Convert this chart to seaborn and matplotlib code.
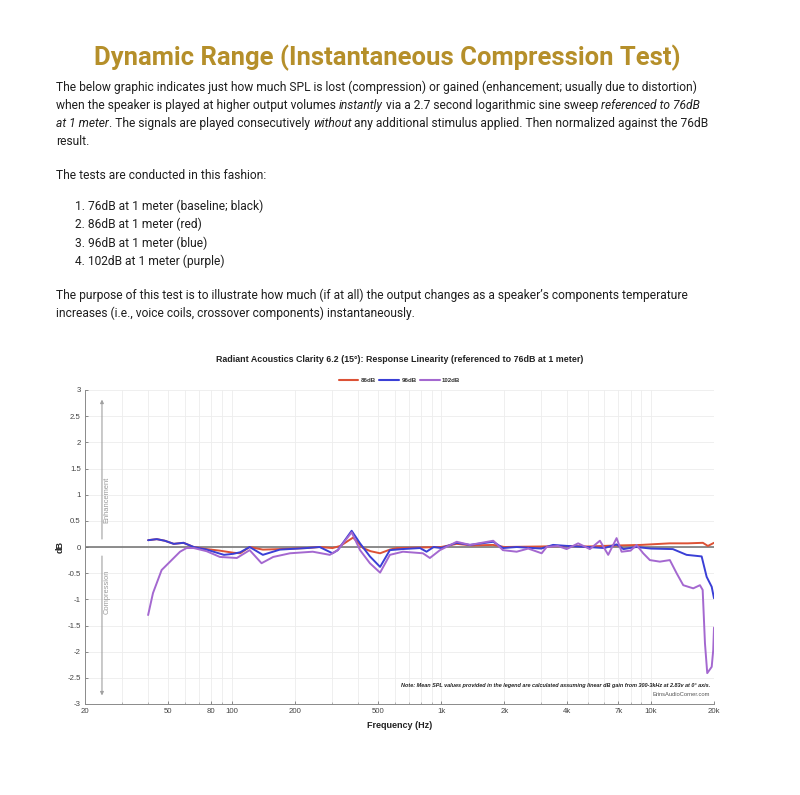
import numpy as np
import pandas as pd
import matplotlib
matplotlib.use("Agg")
import matplotlib.pyplot as plt
import seaborn as sns
from matplotlib.ticker import FixedLocator, FixedFormatter, LogLocator, NullFormatter

# ---------------- data ----------------
series_names = ["86dB", "96dB", "102dB"]
series_colors = ["#DC5236", "#3A3FD6", "#A468D0"]

freq_86 = [40, 44, 48, 53, 59, 66, 76, 88, 102, 110, 122, 141, 170, 228, 263, 303, 330, 380, 424, 460,
           511, 569, 613, 790, 1000, 1185, 1400, 1770, 2000, 3000, 4000, 5000, 7000, 9000, 12300, 15000,
           17700, 18700, 20000]
db_86 = [0.13, 0.15, 0.12, 0.06, 0.08, 0.0, -0.04, -0.07, -0.11, -0.12, 0.0, -0.05, -0.04, -0.02, 0.0,
         -0.02, 0.02, 0.18, -0.02, -0.08, -0.12, -0.05, -0.02, -0.01, 0.0, 0.06, 0.03, 0.04, 0.0, 0.01,
         0.02, 0.01, 0.03, 0.04, 0.07, 0.07, 0.08, 0.02, 0.08]

freq_96 = [40, 44, 48, 53, 59, 66, 76, 92, 102, 110, 122, 141, 170, 228, 263, 303, 321, 374, 410, 457,
           511, 569, 650, 792, 851, 920, 1000, 1185, 1371, 1771, 1969, 2290, 3000, 3413, 4000, 5000, 6000,
           6862, 7400, 8500, 10000, 12730, 14800, 17460, 18450, 19500, 20000]
db_96 = [0.13, 0.15, 0.12, 0.06, 0.08, 0.0, -0.05, -0.15, -0.13, -0.1, 0.0, -0.15, -0.05, -0.02, 0.0,
         -0.12, -0.06, 0.31, 0.07, -0.18, -0.38, -0.06, -0.04, -0.02, -0.09, 0.0, -0.02, 0.08, 0.04, 0.1,
         -0.02, 0.0, -0.03, 0.04, 0.02, 0.0, -0.02, 0.05, -0.04, 0.0, -0.03, -0.04, -0.15, -0.18, -0.57,
         -0.76, -0.98]

freq_102 = [40, 42.2, 46.4, 50.9, 56.8, 61, 66, 76, 88, 106, 122, 139, 158, 190, 244, 294, 321, 374, 410,
            457, 511, 569, 657, 818, 883, 986, 1185, 1371, 1771, 1969, 2290, 2600, 3013, 3184, 3600, 3965,
            4500, 5117, 5713, 6258, 6862, 7249, 8000, 8545, 9191, 9888, 11035, 12315, 13260, 14270, 15920,
            17140, 17660, 18110, 18570, 19500, 19830, 20000]
db_102 = [-1.3, -0.88, -0.44, -0.28, -0.09, -0.02, -0.02, -0.08, -0.19, -0.21, -0.06, -0.31, -0.19, -0.12,
          -0.09, -0.15, -0.06, 0.28, -0.06, -0.31, -0.49, -0.15, -0.09, -0.12, -0.21, -0.06, 0.1, 0.04,
          0.12, -0.06, -0.09, -0.03, -0.12, 0.0, 0.02, -0.04, 0.07, -0.04, 0.12, -0.15, 0.17, -0.09, -0.07,
          0.04, -0.12, -0.25, -0.28, -0.25, -0.5, -0.73, -0.79, -0.73, -0.82, -1.84, -2.41, -2.29, -1.97,
          -1.54]

xtick_values = [20, 50, 80, 100, 200, 500, 1000, 2000, 4000, 7000, 10000, 20000]
xtick_labels = ["20", "50", "80", "100", "200", "500", "1k", "2k", "4k", "7k", "10k", "20k"]
ytick_values = [3, 2.5, 2, 1.5, 1, 0.5, 0, -0.5, -1, -1.5, -2, -2.5, -3]
ytick_labels = ["3", "2.5", "2", "1.5", "1", "0.5", "0", "-0.5", "-1", "-1.5", "-2", "-2.5", "-3"]

page_title = "Dynamic Range (Instantaneous Compression Test)"
para1 = [
    [("The below graphic indicates just how much SPL is lost (compression) or gained (enhancement; usually due to distortion)", "normal")],
    [("when the speaker is played at higher output volumes ", "normal"), ("instantly", "italic"),
     (" via a 2.7 second logarithmic sine sweep ", "normal"), ("referenced to 76dB", "italic")],
    [("at 1 meter", "italic"), (". The signals are played consecutively ", "normal"), ("without", "italic"),
     (" any additional stimulus applied. Then normalized against the 76dB", "normal")],
    [("result.", "normal")],
]
para2 = "The tests are conducted in this fashion:"
list_items = ["1. 76dB at 1 meter (baseline; black)", "2. 86dB at 1 meter (red)",
              "3. 96dB at 1 meter (blue)", "4. 102dB at 1 meter (purple)"]
para3 = ["The purpose of this test is to illustrate how much (if at all) the output changes as a speaker\u2019s components temperature",
         "increases (i.e., voice coils, crossover components) instantaneously."]
chart_title = "Radiant Acoustics Clarity 6.2 (15\u00b0): Response Linearity (referenced to 76dB at 1 meter)"
note_text = "Note: Mean SPL values provided in the legend are calculated assuming linear dB gain from 300-3kHz at 2.83v at 0\u00b0 axis."
site_text = "ErinsAudioCorner.com"

# ---------------- setup ----------------
sns.set_theme(style="white")
plt.rcParams["font.family"] = ["Liberation Sans", "DejaVu Sans"]
plt.rcParams["axes.unicode_minus"] = False

W, H = 800, 795
fig = plt.figure(figsize=(W / 100, H / 100), dpi=100)
fig.patch.set_facecolor("white")
renderer = fig.canvas.get_renderer()

BODY = ["Roboto", "Liberation Sans", "DejaVu Sans"]
CHART = ["Liberation Sans", "DejaVu Sans"]
TEXT_COLOR = "#1e1e1e"


def text_width(s, size, style="normal", weight="normal", family=BODY):
    t = fig.text(0, 0, s + "|", fontsize=size, style=style, fontweight=weight, family=family)
    t2 = fig.text(0, 0, "|", fontsize=size, style=style, fontweight=weight, family=family)
    w = t.get_window_extent(renderer=renderer).width - t2.get_window_extent(renderer=renderer).width
    t.remove()
    t2.remove()
    return w


def fit_size(s, target_px, weight="normal", family=BODY, style="normal"):
    w = text_width(s, 10, style=style, weight=weight, family=family)
    return 10 * target_px / w


def draw_runs(x_px, base_px, runs, size):
    x = x_px
    for s, style in runs:
        fig.text(x / W, 1 - base_px / H, s, fontsize=size, style=style, color=TEXT_COLOR,
                 family=BODY, ha="left", va="baseline")
        x += text_width(s, size, style=style)


# page title
title_size = fit_size(page_title, 585, weight="bold")
fig.text(387.5 / W, 1 - 65 / H, page_title, fontsize=title_size, fontweight="bold", color="#B58F2A",
         family=BODY, ha="center", va="baseline")

body_size = fit_size(para1[0][0][0], 644)
for i, runs in enumerate(para1):
    draw_runs(56, 91 + 18 * i, runs, body_size)
draw_runs(56, 179, [(para2, "normal")], body_size)
for i, item in enumerate(list_items):
    draw_runs(75, 210 + 18.3 * i, [(item, "normal")], body_size)
for i, line in enumerate(para3):
    draw_runs(56, 299 + 18 * i, [(line, "normal")], body_size)

# ---------------- chart ----------------
ax = fig.add_axes([85 / W, 1 - 704 / H, 629 / W, 314 / H])
df = pd.concat([
    pd.DataFrame({"Frequency": freq_86, "dB": db_86, "series": series_names[0]}),
    pd.DataFrame({"Frequency": freq_96, "dB": db_96, "series": series_names[1]}),
    pd.DataFrame({"Frequency": freq_102, "dB": db_102, "series": series_names[2]}),
], ignore_index=True)

ax.axhline(0, color="#6e6e6e", lw=1.1, zorder=1.5)
sns.lineplot(data=df, x="Frequency", y="dB", hue="series", hue_order=series_names,
             palette=series_colors, estimator=None, linewidth=1.4, ax=ax, zorder=3)

ax.set_xscale("log")
ax.set_xlim(20, 20000)
ax.set_ylim(-3, 3)
ax.xaxis.set_major_locator(FixedLocator(xtick_values))
ax.xaxis.set_major_formatter(FixedFormatter(xtick_labels))
ax.xaxis.set_minor_locator(LogLocator(base=10, subs=np.arange(2, 10)))
ax.xaxis.set_minor_formatter(NullFormatter())
ax.yaxis.set_major_locator(FixedLocator(ytick_values))
ax.yaxis.set_major_formatter(FixedFormatter(ytick_labels))

ax.grid(which="both", axis="x", color="#ededed", lw=0.6)
ax.grid(which="major", axis="y", color="#ededed", lw=0.6)
ax.set_axisbelow(True)
for sp in ["top", "right"]:
    ax.spines[sp].set_visible(False)
for sp in ["left", "bottom"]:
    ax.spines[sp].set_color("#8a8a8a")
    ax.spines[sp].set_linewidth(0.7)
ax.tick_params(axis="both", which="major", direction="in", length=2.5, width=0.6, color="#777777",
               labelsize=5.6, labelcolor="#444444", pad=3)
ax.tick_params(axis="x", which="minor", direction="in", length=1.5, width=0.5, color="#999999")
ax.tick_params(axis="x", which="both", bottom=True)
ax.tick_params(axis="y", which="major", left=True)

ax.set_xlabel("Frequency (Hz)", fontsize=6.5, fontweight="bold", color="#222222", labelpad=4)
ax.set_ylabel("dB", fontsize=6.5, fontweight="bold", color="#222222", labelpad=2)

# enhancement / compression arrows
ax.annotate("", xy=(24.1, 2.87), xytext=(24.1, 0.1),
            arrowprops=dict(arrowstyle="-|>", color="#a0a0a0", lw=0.8, mutation_scale=5))
ax.annotate("", xy=(24.1, -2.89), xytext=(24.1, -0.12),
            arrowprops=dict(arrowstyle="-|>", color="#a0a0a0", lw=0.8, mutation_scale=5))
ax.text(25.5, 0.9, "Enhancement", rotation=90, fontsize=5.4, color="#999999", ha="center", va="center")
ax.text(25.5, -0.85, "Compression", rotation=90, fontsize=5.4, color="#999999", ha="center", va="center")

# legend
sns.move_legend(ax, "lower center", bbox_to_anchor=(0.5, 1.0), ncol=3, frameon=False, title=None,
                fontsize=4.4, handlelength=3.2, columnspacing=0.6, handletextpad=0.4, borderaxespad=0.7)
leg = ax.get_legend()
for t in leg.get_texts():
    t.set_fontweight("bold")
    t.set_color("#333333")
for h in leg.legend_handles:
    h.set_linewidth(1.5)

# chart title
ct_size = fit_size(chart_title, 364, weight="bold", family=CHART)
fig.text(400 / W, 1 - 360 / H, chart_title, fontsize=ct_size, fontweight="bold", color="#222222",
         ha="center", va="center", family=CHART)

# notes
note_size = fit_size(note_text, 315, weight="bold", style="italic", family=CHART)
fig.text(710 / W, 1 - 685 / H, note_text, fontsize=note_size, fontweight="bold", style="italic",
         color="#222222", ha="right", va="center", family=CHART)
site_size = fit_size(site_text, 58, family=CHART)
fig.text(710 / W, 1 - 694 / H, site_text, fontsize=site_size, color="#555555", ha="right", va="center",
         family=CHART)

fig.savefig("out.png", dpi=100, facecolor="white")
